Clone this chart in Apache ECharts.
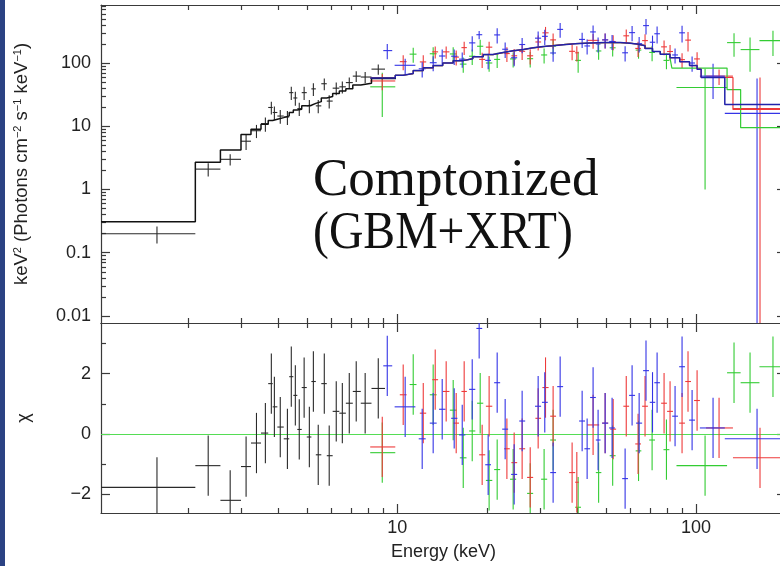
<!DOCTYPE html>
<html>
<head>
<meta charset="utf-8">
<script src="https://cdn.jsdelivr.net/npm/echarts@6/dist/echarts.min.js"></script>
<style>
  html, body { margin: 0; padding: 0; background: #fff; overflow: hidden; }
  /* the plot frame runs a few pixels past the right edge of the window */
  #chart { width: 792px; height: 566px; }
</style>
</head>
<body>
<div id="chart"></div>
<script>
// Unfolded spectrum (keV^2 N(E)) and residuals for the Comptonized fit.
// Each data point: [E, E_lo, E_hi, flux, flux_err, chi]

// Swift XRT
const xrtData = [
  [1.57, 1.02, 2.11, 0.20, 0.06, -1.77],
  [2.33, 2.11, 2.56, 2.1, 0.5, -1.05],
  [2.76, 2.56, 3.00, 3.0, 0.6, -2.20],
  [3.12, 3.00, 3.24, 5.8, 1.6, -1.08],
  [3.38, 3.24, 3.50, 8.5, 2.0, -0.30],
  [3.62, 3.50, 3.70, 11, 2.8, 0.03],
  [3.79, 3.70, 3.83, 19.8, 4.5, 1.67],
  [3.88, 3.83, 3.97, 16.5, 4.0, 0.90],
  [4.06, 3.97, 4.17, 14.5, 3.5, 0.23],
  [4.29, 4.17, 4.35, 14, 3.5, -0.16],
  [4.42, 4.35, 4.49, 34, 8, 1.90],
  [4.56, 4.49, 4.63, 28, 7, 1.28],
  [4.70, 4.63, 4.79, 19, 4.5, 0.15],
  [4.88, 4.79, 4.98, 34, 8, 1.54],
  [5.08, 4.98, 5.16, 21, 5, -0.10],
  [5.24, 5.16, 5.34, 39, 9, 1.74],
  [5.44, 5.34, 5.57, 21, 5, -0.69],
  [5.70, 5.57, 5.81, 47, 10, 1.67],
  [5.92, 5.81, 6.08, 25, 6, -0.72],
  [6.25, 6.08, 6.40, 40, 9, 0.75],
  [6.55, 6.40, 6.73, 42, 9, 0.69],
  [6.91, 6.73, 7.10, 49, 10, 1.02],
  [7.29, 7.10, 7.55, 62, 12, 1.41],
  [7.81, 7.55, 8.20, 60, 12, 1.02],
  [8.64, 8.20, 9.10, 80, 15, 1.51]
];

// Fermi GBM NaI detectors
const gbmRed = [
  [8.91, 8.12, 9.85, 52, 15, -0.43],
  [10.47, 10.2, 10.75, 105, 28, 1.30],
  [12.22, 11.9, 12.5, 104, 28, 0.69],
  [13.40, 13.1, 13.7, 150, 32, 1.80],
  [14.58, 14.2, 14.95, 150, 33, 1.41],
  [15.75, 15.4, 16.1, 124, 33, 0.36],
  [16.75, 16.4, 17.1, 175, 41, 1.41],
  [19.24, 18.8, 19.7, 114, 31, -0.69],
  [20.30, 19.8, 20.8, 178, 39, 0.92],
  [23.28, 22.8, 23.8, 141, 37, -0.49],
  [24.62, 24.1, 25.2, 130, 36, -0.95],
  [26.18, 25.6, 26.8, 153, 41, -0.49],
  [27.86, 27.2, 28.5, 130, 35, -1.44],
  [29.62, 29.0, 30.3, 215, 57, 0.52],
  [31.35, 30.6, 32.1, 300, 72, 1.54],
  [33.24, 32.5, 34.0, 232, 62, 0.59],
  [38.48, 37.6, 39.4, 153, 42, -1.28],
  [39.90, 39.4, 40.5, 145, 39, -1.60],
  [45.23, 43.2, 47.4, 228, 60, 0.30],
  [49.63, 48.5, 50.8, 232, 62, 0.36],
  [52.80, 51.6, 54.0, 217, 58, 0.16],
  [58.40, 57.1, 59.7, 269, 70, 0.92],
  [63.97, 62.6, 65.4, 170, 46, -0.33],
  [67.50, 66.0, 69.0, 226, 60, 0.92],
  [78.16, 76.4, 79.9, 180, 47, 1.02],
  [81.85, 80.0, 83.7, 152, 41, 0.75],
  [89.78, 87.8, 91.8, 113, 30, 0.36],
  [94.0, 92.0, 96.2, 230, 78, 1.74],
  [100.8, 98.5, 103, 116, 32, 1.11],
  [119.4, 108, 132.9, 62, 17, 0.20],
  [163.7, 132.9, 210, 19, 40, -0.79]
];

const gbmBlue = [
  [9.26, 8.98, 9.62, 157, 42, 2.26],
  [10.63, 9.8, 11.5, 92, 25, 0.90],
  [12.12, 11.8, 12.45, 81, 22, -0.16],
  [13.19, 12.85, 13.55, 101, 27, 0.36],
  [14.14, 13.8, 14.5, 129, 35, 0.82],
  [15.51, 15.15, 15.9, 128, 35, 0.52],
  [16.50, 16.1, 16.9, 115, 31, -0.03],
  [17.82, 17.4, 18.25, 208, 56, 1.48],
  [18.80, 18.4, 19.25, 280, 42, 3.50],
  [20.15, 19.7, 20.6, 110, 30, -1.02],
  [21.60, 21.1, 22.1, 278, 75, 1.70],
  [22.97, 22.45, 23.5, 165, 45, 0.16],
  [24.62, 24.05, 25.2, 121, 32, -1.34],
  [26.18, 25.6, 26.8, 196, 53, 0.43],
  [29.62, 28.9, 30.3, 247, 67, 0.92],
  [31.17, 30.5, 31.9, 264, 71, 1.05],
  [33.24, 32.5, 34.0, 144, 39, -1.28],
  [35.09, 34.3, 35.9, 340, 90, 1.57],
  [41.57, 40.6, 42.5, 236, 64, 0.43],
  [43.20, 42.3, 44.2, 186, 50, -0.49],
  [45.23, 44.2, 46.2, 310, 83, 1.21],
  [47.01, 46.2, 47.9, 200, 54, -0.20],
  [49.63, 48.5, 50.8, 232, 62, 0.36],
  [52.36, 51.2, 53.5, 219, 59, 0.20],
  [57.89, 56.6, 59.2, 145, 39, -1.48],
  [61.09, 59.7, 62.5, 302, 82, 1.28],
  [64.50, 63.0, 66.0, 202, 55, 0.36],
  [68.00, 66.5, 69.6, 390, 107, 2.10],
  [71.50, 70.0, 73.0, 213, 58, 1.05],
  [74.07, 72.5, 75.7, 290, 86, 1.70],
  [85.07, 83.2, 87.0, 134, 36, 0.59],
  [89.78, 87.8, 91.8, 300, 89, 2.23],
  [97.0, 94.8, 99.2, 100, 27, 0.46],
  [114.0, 103, 124.8, 62, 35, 0.20],
  [160.0, 124.8, 210, 16, 41, -0.16]
];

const gbmGreen = [
  [8.91, 8.12, 9.85, 42, 28, -0.62],
  [11.31, 11.0, 11.6, 138, 37, 1.64],
  [13.19, 12.85, 13.55, 140, 38, 1.30],
  [15.39, 15.0, 15.8, 139, 38, 0.79],
  [16.63, 16.2, 17.05, 96, 26, -0.79],
  [17.82, 17.4, 18.25, 128, 35, 0.10],
  [18.95, 18.5, 19.4, 184, 50, 1.02],
  [20.30, 19.8, 20.8, 100, 27, -1.54],
  [21.60, 21.1, 22.1, 114, 31, -1.18],
  [24.43, 23.85, 25.0, 116, 31, -1.50],
  [27.86, 27.2, 28.5, 117, 32, -1.97],
  [31.01, 30.3, 31.75, 134, 36, -1.50],
  [33.24, 32.5, 34.0, 185, 50, -0.20],
  [40.31, 39.4, 41.2, 110, 40, -2.43],
  [47.20, 46.2, 48.2, 155, 42, -1.28],
  [52.60, 51.4, 53.8, 174, 47, -0.72],
  [64.20, 62.8, 65.6, 160, 43, -0.56],
  [71.27, 69.7, 72.9, 147, 40, -0.20],
  [79.60, 77.8, 81.4, 110, 30, -0.52],
  [107.2, 86, 127, 41, 40, -1.05],
  [134.0, 127, 141, 210, 85, 2.03],
  [151.6, 141, 163, 163, 90, 1.70],
  [180.9, 163, 210, 226, 97, 2.23]
];

// Folded model, as step lines: [bin left edge (keV), keV^2 N(E)]
const xrtModel = [
  [1.02, 0.31], [2.11, 2.7], [2.56, 4.2], [3.00, 7.4], [3.24, 9.0], [3.50, 10.8],
  [3.70, 12.3], [3.83, 12.9], [3.97, 13.7], [4.17, 14.6], [4.35, 16.5], [4.49, 18.0],
  [4.63, 18.5], [4.79, 21], [4.98, 21.5], [5.16, 23], [5.34, 24.5], [5.57, 28],
  [5.81, 29.5], [6.08, 33], [6.40, 36], [6.73, 39], [7.10, 45], [7.55, 48],
  [8.20, 57], [9.90, 57]
];
const gbmModelCore = [
  [8.12, 58], [9.85, 64], [10.47, 68], [11.31, 76], [12.22, 84], [13.19, 91],
  [14.2, 100], [15.39, 109], [16.63, 117], [17.9, 126], [19.4, 136], [20.9, 146],
  [22.6, 156], [24.4, 163], [26.4, 174], [28.5, 182], [30.8, 188], [33.2, 195],
  [35.9, 202], [39.4, 207], [44.2, 210], [49.6, 210], [55.7, 206], [60.1, 199],
  [63.5, 188], [67.5, 170], [71.5, 152], [75.9, 137], [81.8, 121], [88.2, 105],
  [95.1, 91], [100.8, 80]
];
const redModelTail = [[104, 59], [132.9, 18.4], [210, 18.4]];
const blueModelTail = [[104, 59], [124.8, 22], [210, 22]];
const greenModelTail = [[83, 83], [127, 38], [141, 9.5], [210, 9.5]];

// Axis ticks
const X_MIN = 1.02, X_MAX = 200;
const xMajorTicks = [10, 100];
const xMajorLabels = ['10', '100'];
const xMinorTicks = [2, 3, 4, 5, 6, 7, 8, 9, 20, 30, 40, 50, 60, 70, 80, 90, 200];
const FLUX_MIN = 0.00775, FLUX_MAX = 826;
const fluxMajorTicks = [0.01, 0.1, 1, 10, 100];
const fluxMajorLabels = ['0.01', '0.1', '1', '10', '100'];
const fluxMinorTicks = [0.02, 0.03, 0.04, 0.05, 0.06, 0.07, 0.08, 0.09,
  0.2, 0.3, 0.4, 0.5, 0.6, 0.7, 0.8, 0.9, 2, 3, 4, 5, 6, 7, 8, 9,
  20, 30, 40, 50, 60, 70, 80, 90, 200, 300, 400, 500, 600, 700, 800];
const CHI_MIN = -2.62, CHI_MAX = 3.68;
const chiMajorTicks = [-2, 0, 2];
const chiMajorLabels = ['\u22122', '0', '2'];
const chiMinorTicks = [-1, 1, 3];
const CHI_ERR = 1;

const COLORS = { xrt: '#2a2a2a', red: '#ee3a3a', blue: '#3434e6', green: '#33cc33' };
const FRAME = { color: '#3a3a3a', width: 1.2 };
const LABEL_FONT = 'Liberation Sans, Arial, sans-serif';

const chart = echarts.init(document.getElementById('chart'), null, { renderer: 'canvas' });

// Error-bar cross: horizontal bar = energy bin, vertical bar = value +/- error.
// On the logarithmic flux axis a lower bound at or below zero runs off the bottom.
function crossRenderer(color, logY) {
  return function (params, api) {
    const e = api.value(0), lo = api.value(1), hi = api.value(2);
    const v = api.value(3), err = api.value(4);
    let low = v - err;
    if (logY && low <= 0) low = 1e-6;
    const pL = api.coord([lo, v]), pR = api.coord([hi, v]);
    const pB = api.coord([e, low]), pT = api.coord([e, v + err]);
    const st = { stroke: color, lineWidth: 1.1 };
    return {
      type: 'group',
      children: [
        { type: 'line', shape: { x1: pL[0], y1: pL[1], x2: pR[0], y2: pR[1] }, style: st },
        { type: 'line', shape: { x1: pB[0], y1: pB[1], x2: pT[0], y2: pT[1] }, style: st }
      ]
    };
  };
}

function fluxSeries(name, pts, color, z) {
  return {
    name, type: 'custom', xAxisIndex: 0, yAxisIndex: 0, clip: true, z,
    renderItem: crossRenderer(color, true),
    encode: { x: 0, y: 3 },
    data: pts.map(p => [p[0], p[1], p[2], p[3], p[4]])
  };
}
function chiSeries(name, pts, color, z) {
  return {
    name, type: 'custom', xAxisIndex: 4, yAxisIndex: 4, clip: true, z,
    renderItem: crossRenderer(color, false),
    encode: { x: 0, y: 3 },
    data: pts.map(p => [p[0], p[1], p[2], p[5], CHI_ERR])
  };
}
function modelSeries(name, nodes, color, z, width) {
  return {
    name, type: 'line', xAxisIndex: 0, yAxisIndex: 0, step: 'end', z,
    showSymbol: false, symbol: 'none', silent: true, clip: true,
    lineStyle: { color, width: width || 1.4 },
    data: nodes
  };
}

function xAxesFor(gridIndex, withLabels) {
  const base = {
    gridIndex, type: 'log', logBase: 10, min: X_MIN, max: X_MAX,
    splitLine: { show: false }, axisPointer: { show: false }
  };
  const major = { show: true, inside: true, length: 9, customValues: xMajorTicks, lineStyle: FRAME };
  const minor = { show: true, inside: true, length: 5, customValues: xMinorTicks, lineStyle: FRAME };
  return [
    Object.assign({}, base, {
      position: 'bottom',
      axisLine: { show: true, onZero: false, lineStyle: FRAME },
      axisTick: major,
      axisLabel: withLabels ? {
        show: true, customValues: xMajorTicks, margin: 6,
        formatter: v => xMajorLabels[xMajorTicks.indexOf(Math.round(v))] || '',
        fontFamily: LABEL_FONT, fontSize: 18, color: '#222'
      } : { show: false },
      name: withLabels ? 'Energy (keV)' : '',
      nameLocation: 'middle', nameGap: 30,
      nameTextStyle: { fontFamily: LABEL_FONT, fontSize: 18, color: '#222' }
    }),
    Object.assign({}, base, {
      position: 'top', axisLine: { show: true, onZero: false, lineStyle: FRAME },
      axisTick: major, axisLabel: { show: false }
    }),
    Object.assign({}, base, {
      position: 'bottom', axisLine: { show: false, onZero: false },
      axisTick: minor, axisLabel: { show: false }
    }),
    Object.assign({}, base, {
      position: 'top', axisLine: { show: false, onZero: false },
      axisTick: minor, axisLabel: { show: false }
    })
  ];
}

function yAxesFor(gridIndex, cfg) {
  const base = Object.assign({ gridIndex, splitLine: { show: false }, axisPointer: { show: false } }, cfg.scale);
  const major = { show: true, inside: true, length: 9, customValues: cfg.major, lineStyle: FRAME };
  const minor = { show: true, inside: true, length: 5, customValues: cfg.minor, lineStyle: FRAME };
  return [
    Object.assign({}, base, {
      position: 'left',
      axisLine: { show: true, onZero: false, lineStyle: FRAME },
      axisTick: major,
      axisLabel: {
        show: true, customValues: cfg.major, margin: 10,
        formatter: cfg.format,
        fontFamily: LABEL_FONT, fontSize: 18, color: '#222'
      },
      name: cfg.name, nameLocation: 'middle', nameRotate: 90, nameGap: cfg.nameGap,
      nameTextStyle: cfg.nameStyle
    }),
    Object.assign({}, base, {
      position: 'right', axisLine: { show: true, onZero: false, lineStyle: FRAME },
      axisTick: major, axisLabel: { show: false }
    }),
    Object.assign({}, base, {
      position: 'left', axisLine: { show: false, onZero: false },
      axisTick: minor, axisLabel: { show: false }
    }),
    Object.assign({}, base, {
      position: 'right', axisLine: { show: false, onZero: false },
      axisTick: minor, axisLabel: { show: false }
    })
  ];
}

const fluxAxisName = 'keV{s|2} (Photons cm{s|\u22122} s{s|\u22121} keV{s|\u22121})';

const option = {
  animation: false,
  backgroundColor: '#ffffff',
  grid: [
    { left: 101, top: 5, width: 685, height: 318 },
    { left: 101, top: 323, width: 685, height: 190 }
  ],
  xAxis: [].concat(xAxesFor(0, false), xAxesFor(1, true)),
  yAxis: [].concat(
    yAxesFor(0, {
      scale: { type: 'log', logBase: 10, min: FLUX_MIN, max: FLUX_MAX },
      major: fluxMajorTicks, minor: fluxMinorTicks,
      format: v => {
        const i = fluxMajorTicks.findIndex(t => Math.abs(t - v) / t < 1e-6);
        return i >= 0 ? fluxMajorLabels[i] : '';
      },
      name: fluxAxisName, nameGap: 70,
      nameStyle: {
        fontFamily: LABEL_FONT, fontSize: 18.5, color: '#222',
        rich: { s: { fontFamily: LABEL_FONT, fontSize: 11, color: '#222', verticalAlign: 'top' } }
      }
    }),
    yAxesFor(1, {
      scale: { type: 'value', min: CHI_MIN, max: CHI_MAX },
      major: chiMajorTicks, minor: chiMinorTicks,
      format: v => {
        const i = chiMajorTicks.indexOf(Math.round(v));
        return i >= 0 ? chiMajorLabels[i] : '';
      },
      name: '\u03c7', nameGap: 68,
      nameStyle: { fontFamily: LABEL_FONT, fontSize: 18, color: '#222' }
    })
  ),
  graphic: [
    { type: 'rect', left: 0, top: 0, shape: { width: 5, height: 566 }, style: { fill: '#2b4283' }, z: 100 },
    {
      type: 'text', x: 313, y: 181, z: 100,
      style: { text: 'Comptonized', font: '53px "Liberation Serif", "Times New Roman", serif', fill: '#111', verticalAlign: 'middle' }
    },
    {
      type: 'text', x: 313, y: 234, z: 100, scaleX: 0.9,
      style: { text: '(GBM+XRT)', font: '53px "Liberation Serif", "Times New Roman", serif', fill: '#111', verticalAlign: 'middle' }
    }
  ],
  series: [
    fluxSeries('GBM n (green)', gbmGreen, COLORS.green, 2),
    fluxSeries('GBM n (red)', gbmRed, COLORS.red, 2),
    fluxSeries('GBM n (blue)', gbmBlue, COLORS.blue, 2),
    fluxSeries('XRT', xrtData, COLORS.xrt, 2),
    modelSeries('model green', gbmModelCore.filter(p => p[0] < greenModelTail[0][0]).concat(greenModelTail), COLORS.green, 3, 1.2),
    modelSeries('model red', gbmModelCore.concat(redModelTail), COLORS.red, 3, 1.2),
    modelSeries('model XRT', xrtModel, '#111', 4, 1.5),
    modelSeries('model blue', gbmModelCore.concat(blueModelTail), '#2222aa', 4, 1.5),
    Object.assign(chiSeries('chi XRT', xrtData, COLORS.xrt, 2), {
      markLine: {
        silent: true, symbol: 'none', z: 1,
        label: { show: false },
        lineStyle: { color: '#55dd55', width: 1, type: 'solid' },
        data: [{ yAxis: 0 }]
      }
    }),
    chiSeries('chi green', gbmGreen, COLORS.green, 2),
    chiSeries('chi red', gbmRed, COLORS.red, 2),
    chiSeries('chi blue', gbmBlue, COLORS.blue, 2)
  ]
};

chart.setOption(option);
</script>
</body>
</html>
